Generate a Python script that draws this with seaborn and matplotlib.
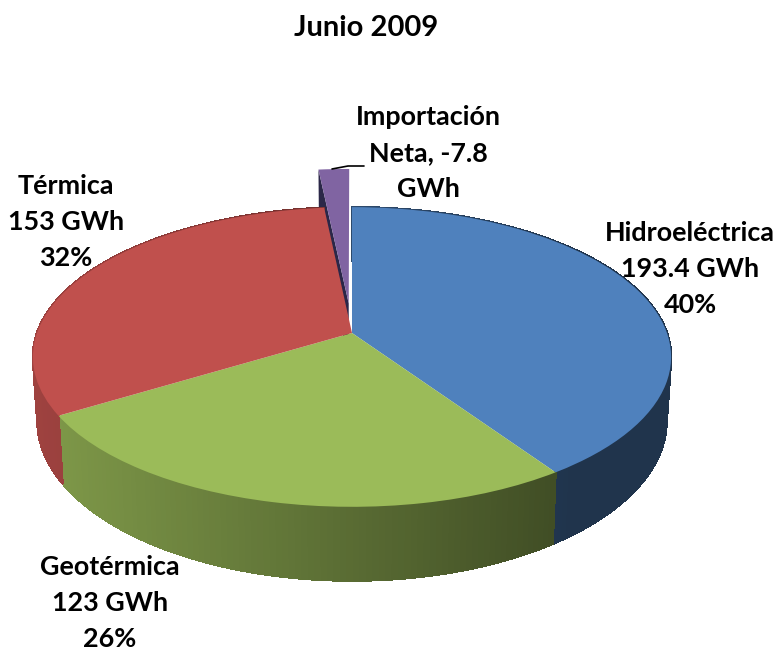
import numpy as np
import seaborn as sns
import matplotlib.pyplot as plt
from matplotlib.collections import PolyCollection
from matplotlib.transforms import Transform

title = "Junio 2009"
sources = ["Hidroeléctrica", "Geotérmica", "Térmica", "Importación Neta"]
gwh = [193.4, 123, 153, -7.8]
labels = ["Hidroeléctrica\n193.4 GWh\n40%", "Geotérmica\n123 GWh\n26%",
          "Térmica\n153 GWh\n32%", "Importación\nNeta, -7.8\nGWh"]
label_x = [690, 110, 66, 428]
label_y = [269, 603, 222, 153]
colors = ["#4f81bd", "#9bbb59", "#c0504d", "#8064a2"]

# pie seen in perspective, pixel units of the 778x650 picture
CX, CY = 352, 333
A, B, K = 146, 315, 0.16
DEPTH = 62
SHRINK = 0.014

sns.set_theme(style="white")
plt.rcParams['font.family'] = ['Lato', 'DejaVu Sans']


def project(x, y, z=0.0):
    d = 1 + K * y
    return CX + B * x * (1 - SHRINK * z) / d, CY + (DEPTH * z - A * y) / d


class DiscToPicture(Transform):
    input_dims = 2
    output_dims = 2

    def transform_non_affine(self, values):
        sx, sy = project(values[:, 0], values[:, 1])
        return np.column_stack([sx, sy])


def shade(color, x):
    # side walls get darker from left to right
    f = np.clip(0.80 - 0.000787 * (x - 66), 0.40, 0.85)
    return np.array(sns.desaturate(color, 1.0)) * f


fig = plt.figure(figsize=(7.78, 6.5), dpi=100)
ax = fig.add_axes([0, 0, 1, 1])

wedges, _ = ax.pie(np.abs(gwh), colors=colors, startangle=90, counterclock=False,
                   explode=[0, 0, 0, 0.21], frame=False)
ax.set_aspect("auto")
ax.set_xlim(0, 778)
ax.set_ylim(650, 0)
ax.axis("off")

disc = DiscToPicture() + ax.transData
wedges[3].set_radius(1.16)
for w in wedges:
    w.set_transform(disc)
    w.set_linewidth(0)
    w.set_zorder(4)
wedges[3].set_zorder(2)

# side walls, one thin strip per step along the rim
for w, c in zip(wedges[:3], colors[:3]):
    th = np.radians(np.arange(w.theta1, w.theta2 + 1, 1.0))
    th[-1] = np.radians(w.theta2)
    polys, fills = [], []
    for t0, t1 in zip(th[:-1], th[1:]):
        x0, y0 = np.cos(t0), np.sin(t0)
        x1, y1 = np.cos(t1), np.sin(t1)
        top0, top1 = project(x0, y0), project(x1, y1)
        bot1, bot0 = project(x1, y1, 1), project(x0, y0, 1)
        polys.append([top0, top1, bot1, bot0])
        fills.append(shade(c, top0[0]))
    ax.add_collection(PolyCollection(polys, facecolors=fills, edgecolors=fills,
                                     linewidths=1.0, antialiaseds=False, zorder=3))

# dark cut face of the pulled-out slice
p = wedges[3]
ex, ey = p.center
tx, ty = np.cos(np.radians(p.theta2)), np.sin(np.radians(p.theta2))
rim_x, rim_y = ex + p.r * tx, ey + p.r * ty
ax.add_collection(PolyCollection(
    [[project(ex, ey), project(rim_x, rim_y), project(rim_x, rim_y, 1), project(ex, ey, 1)]],
    facecolors="#2b2748", edgecolors="none", zorder=1))

for lab, lx, ly in zip(labels, label_x, label_y):
    ax.text(lx, ly, lab, ha="center", va="center", fontsize=19.4, fontweight="bold",
            color="black", linespacing=1.6, zorder=6)
ax.text(366, 28, title, ha="center", va="center", fontsize=21, fontweight="bold", color="black")

# leader line of the small slice
ax.plot([332, 348, 364], [169, 166, 166], color="black", lw=1.2, zorder=5)

fig.savefig("out.png", dpi=100)
